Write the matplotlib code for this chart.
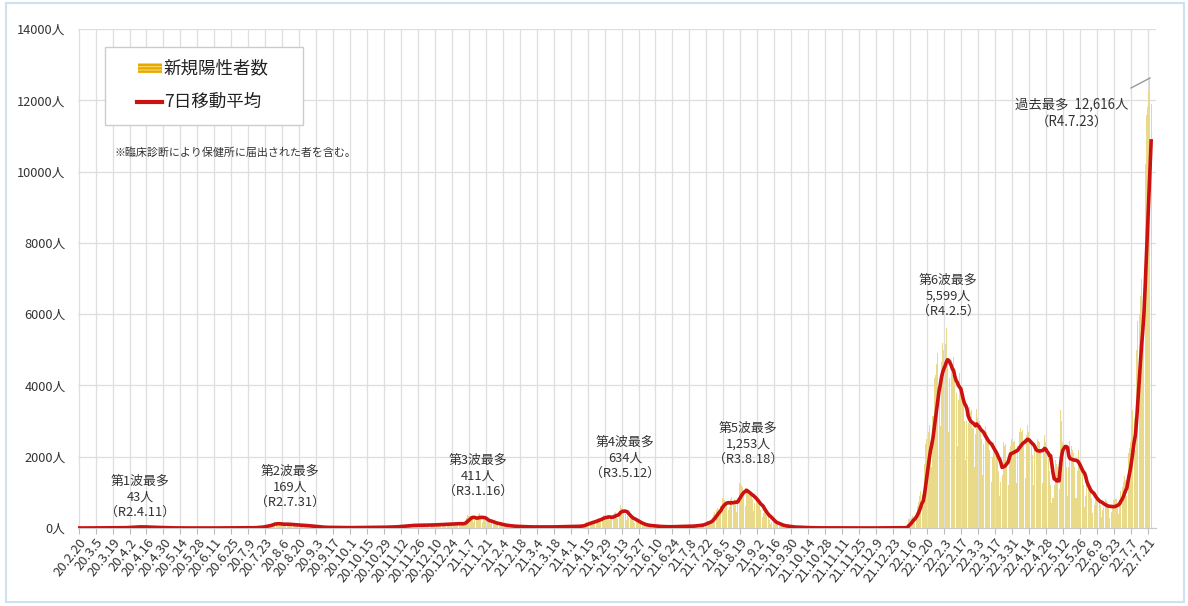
import numpy as np
import pandas as pd
import matplotlib
matplotlib.use('Agg')
import matplotlib.pyplot as plt
from matplotlib.patches import Rectangle
from matplotlib.lines import Line2D

plt.rcParams['font.family'] = ['Noto Sans CJK JP', 'DejaVu Sans']
plt.rcParams['hatch.linewidth'] = 1.6

# ---------------- data ----------------
start_date = '2020-02-20'

# daily new positive cases, one row per week (Thu .. Wed), from 2020-02-20
daily_2020 = [
    1, 2, 1, 0, 1, 1, 1,
    2, 3, 2, 1, 1, 2, 3,
    3, 4, 3, 2, 2, 3, 4,
    4, 3, 3, 2, 1, 3, 5,
    4, 5, 6, 4, 3, 6, 7,
    8, 10, 12, 9, 7, 15, 23,
    20, 24, 28, 22, 15, 30, 36,
    35, 38, 43, 25, 16, 26, 27,
    28, 26, 24, 18, 12, 20, 26,
    16, 14, 13, 10, 8, 11, 12,
    7, 6, 5, 4, 3, 5, 5,
    3, 2, 2, 1, 1, 3, 2,
    1, 1, 1, 1, 0, 2, 1,
    0, 1, 0, 0, 0, 0, 0,
    0, 0, 0, 0, 0, 1, 0,
    1, 0, 1, 1, 0, 1, 1,
    0, 1, 2, 0, 1, 1, 1,
    1, 1, 0, 1, 0, 2, 1,
    1, 2, 1, 0, 0, 1, 2,
    1, 2, 3, 2, 1, 2, 3,
    4, 5, 6, 6, 5, 12, 18,
    20, 25, 28, 22, 18, 40, 57,
    62, 72, 80, 70, 55, 110, 146,
    130, 169, 120, 95, 70, 100, 121,
    120, 125, 118, 100, 70, 95, 107,
    100, 98, 95, 80, 55, 72, 95,
    85, 80, 78, 65, 45, 60, 77,
    65, 60, 55, 45, 30, 40, 55,
    35, 32, 28, 22, 12, 20, 26,
    20, 18, 17, 13, 8, 12, 17,
    12, 11, 12, 9, 6, 9, 11,
    11, 12, 11, 8, 6, 10, 12,
    13, 14, 13, 10, 7, 12, 15,
    16, 15, 16, 12, 8, 14, 17,
    18, 17, 16, 13, 9, 14, 18,
    21, 22, 23, 18, 12, 20, 24,
    26, 28, 30, 24, 16, 24, 27,
    35, 38, 42, 36, 28, 45, 56,
    58, 62, 66, 56, 40, 64, 74,
    80, 84, 88, 72, 50, 72, 79,
    88, 90, 92, 75, 55, 78, 82,
    95, 96, 98, 80, 58, 80, 88,
    105, 108, 110, 90, 62, 90, 100,
    120, 125, 128, 105, 70, 105, 117,
    135, 140, 138, 110, 75, 110, 132,
]

# from 2020-12-31
daily_2021 = [
    150, 120, 130, 140, 150, 270, 370,
    340, 350, 330, 260, 180, 230, 270,
    330, 380, 411, 290, 160, 240, 220,
    250, 230, 210, 160, 100, 150, 160,
    150, 140, 130, 95, 60, 90, 105,
    85, 80, 75, 55, 35, 50, 75,
    58, 55, 52, 40, 25, 38, 47,
    45, 42, 40, 30, 20, 32, 36,
    36, 35, 33, 26, 17, 28, 35,
    35, 34, 34, 27, 18, 28, 34,
    34, 35, 33, 26, 18, 29, 35,
    38, 40, 40, 32, 22, 33, 40,
    44, 45, 46, 38, 26, 38, 43,
    48, 50, 52, 42, 28, 45, 50,
    60, 70, 80, 70, 55, 120, 175,
    150, 165, 180, 160, 110, 190, 235,
    240, 260, 280, 250, 180, 320, 360,
    330, 340, 320, 290, 230, 260, 330,
    380, 420, 450, 400, 280, 440, 634,
    560, 520, 480, 400, 220, 330, 290,
    300, 280, 260, 210, 130, 190, 170,
    150, 130, 120, 90, 50, 75, 85,
    80, 75, 70, 55, 35, 50, 55,
    50, 48, 46, 38, 25, 35, 38,
    42, 40, 40, 33, 20, 32, 38,
    45, 46, 48, 38, 24, 37, 42,
    50, 52, 55, 44, 28, 40, 46,
    55, 60, 70, 60, 42, 65, 68,
    75, 85, 100, 95, 70, 125, 150,
    170, 185, 210, 200, 160, 310, 375,
    450, 500, 560, 520, 420, 620, 850,
    800, 780, 760, 660, 500, 600, 800,
    880, 760, 820, 720, 460, 707, 1253,
    1230, 1200, 1150, 1010, 620, 970, 1100,
    1050, 1000, 950, 800, 480, 700, 900,
    780, 700, 620, 500, 300, 430, 450,
    400, 350, 300, 220, 120, 180, 180,
    160, 140, 120, 90, 50, 70, 70,
    65, 60, 55, 42, 22, 36, 35,
    30, 28, 25, 18, 10, 16, 13,
    16, 15, 14, 11, 6, 10, 12,
    8, 8, 7, 6, 3, 5, 5,
    4, 4, 3, 3, 2, 2, 3,
    3, 2, 2, 2, 1, 2, 2,
    1, 2, 1, 1, 0, 1, 1,
    1, 1, 1, 0, 1, 1, 2,
    0, 1, 1, 1, 0, 2, 1,
    1, 1, 2, 1, 0, 1, 1,
    1, 0, 1, 1, 1, 1, 2,
    2, 1, 1, 0, 0, 1, 2,
    2, 3, 2, 1, 1, 2, 3,
    4, 5, 6, 4, 3, 6, 7,
]

# from 2021-12-30
daily_2022 = [
    8, 10, 12, 15, 20, 100, 255,
    240, 280, 340, 320, 200, 460, 610,
    730, 900, 1040, 960, 620, 1800, 2350,
    2500, 2700, 2900, 2450, 1700, 3150, 4200,
    4300, 4600, 4900, 4100, 2850, 4650, 5200,
    5000, 5150, 5599, 4600, 2700, 4200, 4700,
    4300, 4800, 4500, 3800, 2300, 3600, 4350,
    4000, 3700, 3500, 3000, 1900, 3000, 2950,
    3400, 3250, 3300, 2800, 1700, 2650, 3340,
    3100, 3000, 2900, 2500, 1500, 2350, 2850,
    2700, 2600, 2550, 2200, 1300, 2000, 2400,
    2300, 2200, 2100, 1600, 900, 1300, 1500,
    2400, 2300, 2350, 1900, 1200, 2100, 2310,
    2500, 2400, 2450, 2100, 1250, 2300, 2680,
    2800, 2700, 2750, 2300, 1400, 2600, 2880,
    2700, 2500, 2450, 2050, 1200, 2200, 2300,
    2500, 2450, 2400, 2100, 1250, 2300, 2610,
    2400, 2000, 2100, 1600, 1200, 700, 850,
    1200, 1900, 1800, 1700, 1100, 3300, 3000,
    2400, 2300, 2200, 1700, 900, 1700, 2450,
    2300, 2200, 2100, 1700, 850, 1600, 2200,
    1900, 1700, 1600, 1200, 600, 900, 1200,
    1300, 1200, 1100, 850, 420, 650, 780,
    950, 900, 850, 650, 320, 500, 590,
    800, 760, 740, 580, 290, 450, 580,
    780, 800, 820, 700, 400, 700, 1050,
    1150, 1300, 1450, 1350, 900, 2100, 2250,
    2400, 2900, 3300, 3100, 2200, 5000, 5800,
    6000, 6500, 7000, 6000, 5600, 10200, 11600,
    11800, 12300, 12616, 11900,
]

xtick_labels = [
    '20.2.20', '20.3.5', '20.3.19', '20.4.2', '20.4.16', '20.4.30', '20.5.14',
    '20.5.28', '20.6.11', '20.6.25', '20.7.9', '20.7.23', '20.8.6', '20.8.20',
    '20.9.3', '20.9.17', '20.10.1', '20.10.15', '20.10.29', '20.11.12',
    '20.11.26', '20.12.10', '20.12.24', '21.1.7', '21.1.21', '21.2.4',
    '21.2.18', '21.3.4', '21.3.18', '21.4.1', '21.4.15', '21.4.29', '21.5.13',
    '21.5.27', '21.6.10', '21.6.24', '21.7.8', '21.7.22', '21.8.5', '21.8.19',
    '21.9.2', '21.9.16', '21.9.30', '21.10.14', '21.10.28', '21.11.11',
    '21.11.25', '21.12.9', '21.12.23', '22.1.6', '22.1.20', '22.2.3',
    '22.2.17', '22.3.3', '22.3.17', '22.3.31', '22.4.14', '22.4.28',
    '22.5.12', '22.5.26', '22.6.9', '22.6.23', '22.7.7', '22.7.21',
]
ytick_values = [0, 2000, 4000, 6000, 8000, 10000, 12000, 14000]
ytick_labels = ['0人', '2000人', '4000人', '6000人', '8000人',
                '10000人', '12000人', '14000人']

legend_labels = ['新規陽性者数', '7日移動平均']
note_text = '※臨床診断により保健所に届出された者を含む。'
wave_titles = ['第1波最多', '第2波最多', '第3波最多', '第4波最多', '第5波最多', '第6波最多']
wave_counts = ['43人', '169人', '411人', '634人', '1,253人', '5,599人']
wave_dates = ['（R2.4.11）', '（R2.7.31）', '（R3.1.16）', '（R3.5.12）',
              '（R3.8.18）', '（R4.2.5）']
record_text = '過去最多  12,616人'
record_date = '（R4.7.23）'

# ---------------- derived ----------------
daily = daily_2020 + daily_2021 + daily_2022
dates = pd.date_range(start_date, periods=len(daily), freq='D')
series = pd.Series(daily, index=dates)
avg7 = series.rolling(7, min_periods=1).mean()
tick_dates = pd.date_range(start_date, periods=len(xtick_labels), freq='14D')

# ---------------- figure ----------------
W, H = 1188, 606
fig = plt.figure(figsize=(W / 100, H / 100), dpi=100)
fig.patch.set_facecolor('white')

def fx(px):
    return px / W

def fy(py):
    return 1 - py / H

ax = fig.add_axes([fx(78), fy(528), (1156 - 78) / W, (528 - 29) / H])

ax.bar(dates, daily, width=0.85, color='#e9da8a', linewidth=0, zorder=2)
ax.plot(dates, avg7.values, color='#cc1111', lw=2.6, zorder=3,
        solid_joinstyle='round')

ax.set_xlim(pd.Timestamp(start_date) - pd.Timedelta(days=0.5),
            pd.Timestamp(start_date) + pd.Timedelta(days=889))
ax.set_ylim(0, 14000)
ax.set_xticks(tick_dates)
ax.set_xticklabels(xtick_labels)
ax.set_yticks(ytick_values)
ax.set_yticklabels(ytick_labels)
ax.grid(True, color='#dedede', lw=0.9)
ax.set_axisbelow(True)
for sp in ['top', 'right', 'left']:
    ax.spines[sp].set_visible(False)
ax.spines['bottom'].set_color('#c8c8c8')
ax.tick_params(axis='x', length=4, color='#bbbbbb', labelsize=9.5,
               labelcolor='#333333', pad=2)
ax.tick_params(axis='y', length=0, labelsize=9.2, labelcolor='#333333', pad=9)
for lbl in ax.get_xticklabels():
    lbl.set_rotation(52)
    lbl.set_ha('right')
    lbl.set_va('top')
    lbl.set_rotation_mode('anchor')

# legend (manual box)
fig.add_artist(Rectangle((fx(105), fy(125)), 198 / W, 78 / H, transform=fig.transFigure,
                         facecolor='white', edgecolor='#cccccc', lw=1, zorder=5))
fig.add_artist(Rectangle((fx(138), fy(73)), 24 / W, 10 / H, transform=fig.transFigure,
                         facecolor='#f8dd70', edgecolor='#e8a800', hatch='-----',
                         lw=0, zorder=6))
fig.add_artist(Line2D([fx(137), fx(162)], [fy(102), fy(102)], transform=fig.transFigure,
                      color='#cc1111', lw=3, zorder=6))
fig.text(fx(164), fy(68), legend_labels[0], fontsize=12.6, va='center', ha='left',
         color='#222222', zorder=7)
fig.text(fx(164), fy(102), legend_labels[1], fontsize=12.6, va='center', ha='left',
         color='#222222', zorder=7)
fig.text(fx(115), fy(152), note_text, fontsize=7.9, va='center', ha='left',
         color='#333333')

# wave annotations
wave_pos = [(140, 497), (290, 487), (478, 476), (625, 458), (748, 444), (948, 296)]
for (px, py), t, c, d in zip(wave_pos, wave_titles, wave_counts, wave_dates):
    fig.text(fx(px), fy(py), t + '\n' + c + '\n' + d, fontsize=9.3, ha='center',
             va='center', multialignment='center', linespacing=1.25, color='#333333')

fig.text(fx(1072), fy(113), record_text + '\n' + record_date, fontsize=9.6,
         ha='center', va='center', multialignment='center', linespacing=1.25,
         color='#333333')
fig.add_artist(Line2D([fx(1131), fx(1150)], [fy(88), fy(78)], transform=fig.transFigure,
                      color='#999999', lw=1))

# outer frame
fig.add_artist(Rectangle((fx(6), fy(602)), (1184 - 6) / W, (602 - 3) / H,
                         transform=fig.transFigure, facecolor='none',
                         edgecolor='#cfe0ee', lw=1.5))

fig.savefig('out.png', dpi=100)
